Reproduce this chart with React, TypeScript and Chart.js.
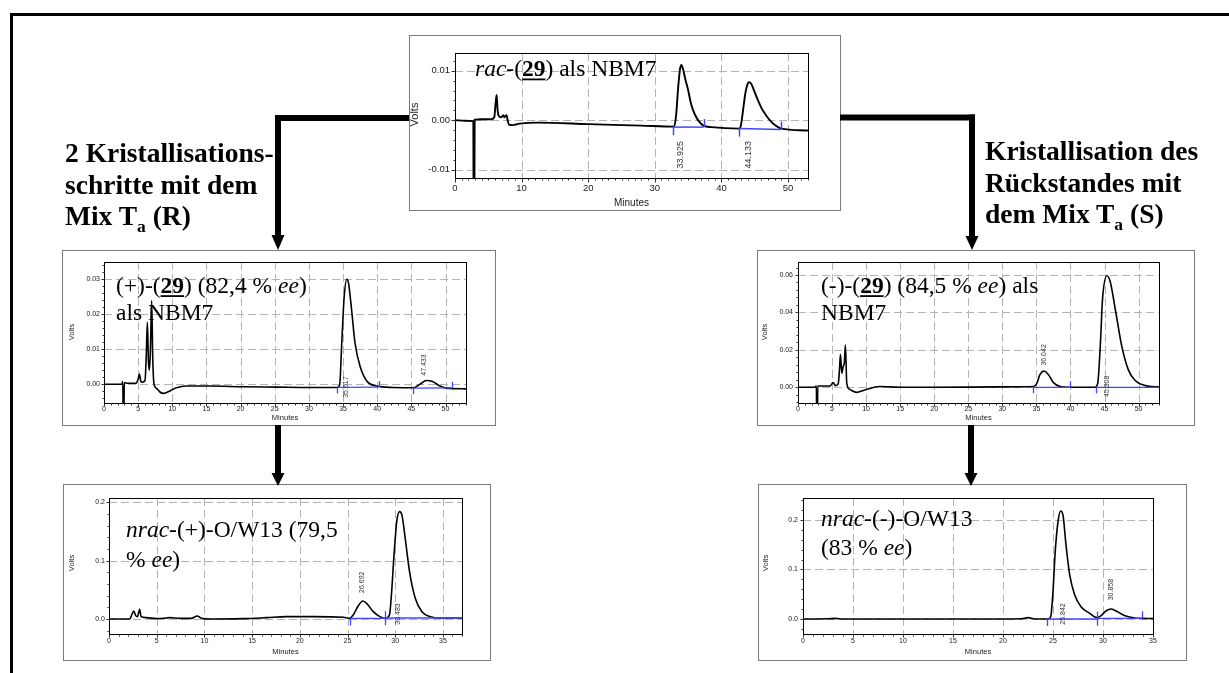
import React, { useEffect, useRef } from 'react';
import { Chart, registerables } from 'chart.js';
Chart.register(...registerables);

type P = [number, number];
type M = [number, number, number]; // x, y, dir (-1 down, 1 up, 0 both)

const SANS = '"Liberation Sans", Arial, sans-serif';
const SERIF = '"Liberation Serif", "Times New Roman", serif';
const BLUE = '#4444ff';

// ---------------- DATA ----------------
// Chart 1: rac-(29) als NBM7
const racX = [0, 10, 20, 30, 40, 50];
const racXLabels = ['0', '10', '20', '30', '40', '50'];
const racY = [-0.01, 0, 0.01];
const racYLabels = ['-0.01', '0.00', '0.01'];
const racTrace: P[] = [
  [0, 0], [1.5, -0.0001], [2.75, -0.0002], [2.8, -0.02], [2.9, -0.02], [2.95, 0.0001], [4, 0.0002], [5.5, 0.0002],
  [5.9, 0.0006], [6.1, 0.0035], [6.25, 0.0051], [6.4, 0.002], [6.6, 0.0008], [6.9, 0.0006], [7.1, 0.0008], [7.25, 0.001],
  [7.4, 0.0006], [7.6, 0.0009], [7.75, 0.001], [7.9, 0.0], [8.1, -0.0009], [8.6, -0.001], [9.7, -0.0007], [12.5, -0.0005],
  [20, -0.0008], [28, -0.0011], [32.9, -0.0013],
  [33.2, 0.001], [33.5, 0.0065], [33.8, 0.0105], [34.0, 0.0112], [34.2, 0.0105], [34.6, 0.0082], [35.0, 0.0061],
  [35.5, 0.003], [36.0, 0.0012], [36.6, -0.0002], [37.3, -0.0011], [38.5, -0.0014], [42.7, -0.0017],
  [42.9, -0.0012], [43.2, 0.0015], [43.6, 0.0055], [43.95, 0.0074], [44.2, 0.0077], [44.5, 0.0073], [44.9, 0.006],
  [45.4, 0.0043], [46, 0.0025], [46.8, 0.0008], [47.6, -0.0005], [48.5, -0.0014], [49, -0.0017], [53, -0.0021],
];
const racBaseA: P[] = [[32.7, -0.0014], [37.35, -0.0014]];
const racBaseB: P[] = [[42.6, -0.0017], [48.9, -0.0019]];
const racMarks: M[] = [[32.7, -0.0014, -1], [37.35, -0.0014, 1], [42.6, -0.0017, -1], [48.9, -0.0019, 1]];
const racPeakLabels = ['33.925', '44.133'];
const racPeakX = [33.8, 44.1];
const racPeakY = [-0.007, -0.007];

// Chart 2: (+)-(29)
const plusX = [0, 5, 10, 15, 20, 25, 30, 35, 40, 45, 50];
const plusXLabels = plusX.map(String);
const plusY = [0, 0.01, 0.02, 0.03];
const plusYLabels = ['0.00', '0.01', '0.02', '0.03'];
const plusTrace: P[] = [
  [0, 0], [2.6, 0], [2.75, 0.0008], [2.82, -0.01], [2.9, -0.01], [2.97, 0.0004], [3.5, 0.0003], [4.7, 0.0003],
  [5.0, 0.0015], [5.18, 0.0029], [5.4, 0.0008], [5.6, 0.0006], [6.0, 0.001], [6.2, 0.009], [6.35, 0.0177], [6.5, 0.0069],
  [6.64, 0.004], [6.8, 0.01], [6.98, 0.0239], [7.13, 0.008], [7.32, 0.0001], [7.7, -0.0012], [8.2, -0.0022], [8.7, -0.0026],
  [9.66, -0.0019], [10.6, -0.001], [12, -0.0005], [15.5, -0.0005], [20.4, -0.0007], [25.3, -0.0008], [30.2, -0.0009],
  [34.1, -0.0009], [34.5, -0.0002], [34.8, 0.0113], [35.15, 0.0246], [35.55, 0.03], [35.8, 0.0289], [36.25, 0.0213],
  [36.75, 0.0118], [37.5, 0.0051], [38.5, 0.0009], [39.9, -0.0005], [42.4, -0.0009], [45.3, -0.001], [46.3, 0.0001],
  [47.2, 0.0011], [48.0, 0.0009], [49.2, -0.0005], [50.2, -0.0011], [53, -0.0013],
];
const plusBaseA: P[] = [[34.15, -0.0009], [40.2, -0.0008]];
const plusBaseB: P[] = [[45.2, -0.0011], [50.9, -0.001]];
const plusMarks: M[] = [[34.15, -0.0009, -1], [40.2, -0.0008, 1], [45.2, -0.0011, -1], [50.9, -0.001, 1]];
const plusPeakLabels = ['35.617', '47.433'];
const plusPeakX = [35.45, 46.8];
const plusPeakY = [-0.0008, 0.0055];

// Chart 3: (-)-(29)
const minusX = [0, 5, 10, 15, 20, 25, 30, 35, 40, 45, 50];
const minusXLabels = minusX.map(String);
const minusY = [0, 0.02, 0.04, 0.06];
const minusYLabels = ['0.00', '0.02', '0.04', '0.06'];
const minusTrace: P[] = [
  [0, 0], [2.45, 0], [2.7, 0.0007], [2.75, -0.02], [2.85, -0.02], [2.9, 0.0007], [3.2, 0.0007], [4.7, 0.0007],
  [5.15, 0.0025], [5.5, 0.0009], [5.9, 0.0018], [6.1, 0.01], [6.23, 0.0176], [6.43, 0.0075], [6.62, 0.011], [6.8, 0.013],
  [6.96, 0.0226], [7.16, 0.0021], [7.6, -0.0011], [8.58, -0.0027], [9.8, -0.0014], [12, 0.0004], [15.2, 0], [20.1, 0],
  [29.9, 0.0002], [34.6, 0.0004], [35.06, 0.0021], [35.5, 0.0066], [36.1, 0.0087], [36.8, 0.0066], [37.5, 0.0025],
  [38.5, 0.0004], [39.7, 0], [43.6, 0], [44.0, 0.0021], [44.4, 0.0235], [44.7, 0.0467], [45.35, 0.0596], [45.84, 0.0564],
  [46.6, 0.0413], [47.55, 0.0217], [48.5, 0.0093], [49.5, 0.0036], [51, 0.0009], [53, 0.0002],
];
const minusBaseA: P[] = [[34.5, 0], [40, 0]];
const minusBaseB: P[] = [[43.7, 0], [53, 0]];
const minusMarks: M[] = [[34.5, 0, -1], [40, 0, 1], [43.7, 0, -1]];
const minusPeakLabels = ['36.042', '45.308'];
const minusPeakX = [36.1, 45.35];
const minusPeakY = [0.0173, 0.0005];

// Chart 4: nrac-(+)-O/W13
const owPlusX = [0, 5, 10, 15, 20, 25, 30, 35];
const owPlusXLabels = owPlusX.map(String);
const owPlusY = [0, 0.1, 0.2];
const owPlusYLabels = ['0.0', '0.1', '0.2'];
const owPlusTrace: P[] = [
  [0, 0], [2.17, 0], [2.45, 0.0097], [2.6, 0.0137], [2.8, 0.0057], [2.98, 0.004], [3.22, 0.0166], [3.36, 0.004],
  [3.9, 0.0023], [4.97, 0.0006], [6.0, 0.0017], [6.37, 0.0023], [7.4, 0.0011], [8.6, 0.0011], [9.24, 0.0051],
  [9.7, 0.0011], [10.6, 0], [14.07, 0.0006], [16.5, 0.0023], [18.6, 0.004], [21.4, 0.004], [24.6, 0.0029], [25.2, 0.0011],
  [25.6, 0.0069], [26.07, 0.0211], [26.6, 0.0309], [27.0, 0.0269], [27.7, 0.0126], [28.4, 0.004], [28.93, 0.0011],
  [29.4, 0.0069], [29.6, 0.0412], [29.9, 0.1155], [30.16, 0.167], [30.45, 0.184], [30.7, 0.1784], [31.05, 0.138],
  [31.5, 0.0812], [32.1, 0.0355], [32.8, 0.0126], [33.7, 0.004], [34.7, 0.0017], [37, 0.0017],
];
const owPlusBaseA: P[] = [[25.27, 0.0011], [28.93, 0.0011]];
const owPlusBaseB: P[] = [[28.93, 0.0017], [37, 0.0017]];
const owPlusMarks: M[] = [[25.27, 0.0011, -1], [28.93, 0.0014, 0]];
const owPlusPeakLabels = ['26.692', '30.483'];
const owPlusPeakX = [26.5, 30.35];
const owPlusPeakY = [0.063, 0.0086];

// Chart 5: nrac-(-)-O/W13
const owMinusX = [0, 5, 10, 15, 20, 25, 30, 35];
const owMinusXLabels = owMinusX.map(String);
const owMinusY = [0, 0.1, 0.2];
const owMinusYLabels = ['0.0', '0.1', '0.2'];
const owMinusTrace: P[] = [
  [0, 0], [2.5, 0.0004], [3.2, 0.0013], [4, 0], [8.2, 0], [16.5, 0], [21.8, 0.0006], [22.5, 0.0027], [23.2, 0], [24.5, 0],
  [24.77, 0.0047], [25.0, 0.0552], [25.2, 0.1293], [25.5, 0.1966], [25.77, 0.2182], [26.0, 0.21], [26.3, 0.1495],
  [26.67, 0.0889], [27.17, 0.0485], [27.8, 0.0249], [28.67, 0.0114], [29.4, 0.0027], [29.8, 0.0067], [30.3, 0.0162],
  [30.8, 0.0202], [31.3, 0.0162], [32.2, 0.0067], [33.2, 0.002], [33.9, 0.0013], [35, 0.0007],
];
const owMinusBaseA: P[] = [[24.4, 0], [29.4, 0]];
const owMinusBaseB: P[] = [[29.4, 0.0013], [33.9, 0.0013]];
const owMinusMarks: M[] = [[24.4, 0, -1], [29.4, 0.0006, 0], [33.9, 0.0013, 1]];
const owMinusPeakLabels = ['25.842', '30.858'];
const owMinusPeakX = [26.0, 30.8];
const owMinusPeakY = [0.0101, 0.0593];

// ---------------- TYPES / SPECS ----------------
interface Seg { t: string; i?: boolean; b?: boolean; u?: boolean }
interface Spec {
  box: [number, number, number, number];
  plot: [number, number, number, number];
  xRange: [number, number]; yRange: [number, number];
  xTicks: number[]; xLabels: string[]; yTicks: number[]; yLabels: string[];
  xMinor: number; yMinor: number;
  trace: P[]; baselines: P[][]; marks: M[];
  peakLabels: string[]; peakX: number[]; peakY: number[];
  overlay: { x: number; y: number; segs: Seg[] }[];
  tickFont: number; voltsFont: number; minFont: number; peakFont: number;
  xPad: number; yPad: number;
  volts: [number, number]; minutes: [number, number];
  lw: number; blw: number; markLen: number; majorLen: number; minorLen: number;
}

const OV = 23.5;

const specs: Spec[] = [
  {
    box: [409, 35, 840, 210], plot: [455, 53, 808, 178],
    xRange: [0, 53], yRange: [-0.0117, 0.0136],
    xTicks: racX, xLabels: racXLabels, yTicks: racY, yLabels: racYLabels, xMinor: 1, yMinor: 0.002,
    trace: racTrace, baselines: [racBaseA, racBaseB], marks: racMarks,
    peakLabels: racPeakLabels, peakX: racPeakX, peakY: racPeakY,
    overlay: [{ x: 475, y: 76, segs: [{ t: 'rac', i: true }, { t: '-(' }, { t: '29', b: true, u: true }, { t: ') als NBM7' }] }],
    tickFont: 9.5, voltsFont: 11, minFont: 10, peakFont: 9, xPad: 5, yPad: 5,
    volts: [415, 114.5], minutes: [631.5, 203], lw: 1.9, blw: 1.5, markLen: 8, majorLen: 4, minorLen: 2,
  },
  {
    box: [62, 250, 495, 425], plot: [104, 262, 466, 403],
    xRange: [0, 53], yRange: [-0.00534, 0.03494],
    xTicks: plusX, xLabels: plusXLabels, yTicks: plusY, yLabels: plusYLabels, xMinor: 1, yMinor: 0.002,
    trace: plusTrace, baselines: [plusBaseA, plusBaseB], marks: plusMarks,
    peakLabels: plusPeakLabels, peakX: plusPeakX, peakY: plusPeakY,
    overlay: [
      { x: 116, y: 292.7, segs: [{ t: '(+)-(' }, { t: '29', b: true, u: true }, { t: ') (82,4 % ' }, { t: 'ee', i: true }, { t: ')' }] },
      { x: 116, y: 320, segs: [{ t: 'als NBM7' }] },
    ],
    tickFont: 7, voltsFont: 7.5, minFont: 7.5, peakFont: 7, xPad: 2, yPad: 4,
    volts: [72, 332], minutes: [285, 418], lw: 1.6, blw: 1.3, markLen: 6, majorLen: 3, minorLen: 2,
  },
  {
    box: [757, 250, 1194, 425], plot: [798, 262, 1159, 403],
    xRange: [0, 53], yRange: [-0.00839, 0.06694],
    xTicks: minusX, xLabels: minusXLabels, yTicks: minusY, yLabels: minusYLabels, xMinor: 1, yMinor: 0.004,
    trace: minusTrace, baselines: [minusBaseA, minusBaseB], marks: minusMarks,
    peakLabels: minusPeakLabels, peakX: minusPeakX, peakY: minusPeakY,
    overlay: [
      { x: 821, y: 292.7, segs: [{ t: '(-)-(' }, { t: '29', b: true, u: true }, { t: ') (84,5 % ' }, { t: 'ee', i: true }, { t: ') als' }] },
      { x: 821, y: 320, segs: [{ t: 'NBM7' }] },
    ],
    tickFont: 7, voltsFont: 7.5, minFont: 7.5, peakFont: 7, xPad: 2, yPad: 5,
    volts: [764.5, 332], minutes: [978.5, 418], lw: 1.6, blw: 1.3, markLen: 6, majorLen: 3, minorLen: 2,
  },
  {
    box: [63, 484, 490, 660], plot: [109, 498, 462, 634],
    xRange: [0, 37], yRange: [-0.0257, 0.2074],
    xTicks: owPlusX, xLabels: owPlusXLabels, yTicks: owPlusY, yLabels: owPlusYLabels, xMinor: 1, yMinor: 0.02,
    trace: owPlusTrace, baselines: [owPlusBaseA, owPlusBaseB], marks: owPlusMarks,
    peakLabels: owPlusPeakLabels, peakX: owPlusPeakX, peakY: owPlusPeakY,
    overlay: [
      { x: 126, y: 536.7, segs: [{ t: 'nrac', i: true }, { t: '-(+)-O/W13 (79,5' }] },
      { x: 126, y: 566.7, segs: [{ t: '% ' }, { t: 'ee', i: true }, { t: ')' }] },
    ],
    tickFont: 7, voltsFont: 7.5, minFont: 7.5, peakFont: 7, xPad: 3, yPad: 4,
    volts: [71.7, 563], minutes: [285.5, 652], lw: 1.6, blw: 1.3, markLen: 7, majorLen: 3, minorLen: 2,
  },
  {
    box: [758, 484, 1186, 660], plot: [803, 498, 1153, 634],
    xRange: [0, 35], yRange: [-0.0303, 0.2444],
    xTicks: owMinusX, xLabels: owMinusXLabels, yTicks: owMinusY, yLabels: owMinusYLabels, xMinor: 1, yMinor: 0.02,
    trace: owMinusTrace, baselines: [owMinusBaseA, owMinusBaseB], marks: owMinusMarks,
    peakLabels: owMinusPeakLabels, peakX: owMinusPeakX, peakY: owMinusPeakY,
    overlay: [
      { x: 821, y: 526, segs: [{ t: 'nrac', i: true }, { t: '-(-)-O/W13' }] },
      { x: 821, y: 555, segs: [{ t: '(83 % ' }, { t: 'ee', i: true }, { t: ')' }] },
    ],
    tickFont: 7, voltsFont: 7.5, minFont: 7.5, peakFont: 7, xPad: 3, yPad: 5,
    volts: [765.7, 563], minutes: [978, 652], lw: 1.6, blw: 1.3, markLen: 7, majorLen: 3, minorLen: 2,
  },
];

function drawRich(ctx: CanvasRenderingContext2D, x: number, y: number, segs: Seg[], size: number) {
  let cx = x;
  ctx.fillStyle = '#000';
  ctx.textAlign = 'left';
  ctx.textBaseline = 'alphabetic';
  for (const s of segs) {
    ctx.font = `${s.i ? 'italic ' : ''}${s.b ? 'bold ' : ''}${size}px ${SERIF}`;
    ctx.fillText(s.t, cx, y);
    const w = ctx.measureText(s.t).width;
    if (s.u) ctx.fillRect(cx, y + 2.5, w, 1.8);
    cx += w;
  }
}

function makePlugin(s: Spec, ox: number, oy: number) {
  const eps = 1e-9;
  return {
    id: 'chrom',
    beforeDatasetsDraw(chart: any) {
      const { ctx, chartArea: a, scales } = chart;
      const x = scales.x, y = scales.y;
      ctx.save();
      ctx.strokeStyle = '#b4b4b4';
      ctx.lineWidth = 1;
      ctx.setLineDash([8, 4]);
      for (const v of s.xTicks) {
        if (v <= s.xRange[0] + eps || v >= s.xRange[1] - eps) continue;
        const px = Math.round(x.getPixelForValue(v)) + 0.5;
        ctx.beginPath(); ctx.moveTo(px, a.top); ctx.lineTo(px, a.bottom); ctx.stroke();
      }
      for (const v of s.yTicks) {
        const py = Math.round(y.getPixelForValue(v)) + 0.5;
        ctx.beginPath(); ctx.moveTo(a.left, py); ctx.lineTo(a.right, py); ctx.stroke();
      }
      ctx.restore();
    },
    afterDatasetsDraw(chart: any) {
      const { ctx, chartArea: a, scales } = chart;
      const x = scales.x, y = scales.y;
      ctx.save();
      ctx.setLineDash([]);
      // blue integration markers
      ctx.strokeStyle = BLUE;
      ctx.lineWidth = s.blw;
      for (const [mx, my, d] of s.marks) {
        const px = Math.round(x.getPixelForValue(mx)) + 0.5;
        const py = y.getPixelForValue(my);
        ctx.beginPath();
        ctx.moveTo(px, d >= 0 ? py - s.markLen : py);
        ctx.lineTo(px, d <= 0 ? py + s.markLen : py);
        ctx.stroke();
      }
      // plot frame
      ctx.strokeStyle = '#000';
      ctx.lineWidth = 1;
      const L = Math.round(a.left) + 0.5, T = Math.round(a.top) + 0.5;
      const R = Math.round(a.right) + 0.5, B = Math.round(a.bottom) + 0.5;
      ctx.strokeRect(L, T, R - L, B - T);
      // ticks
      ctx.strokeStyle = '#333';
      const nx = Math.round((s.xRange[1] - s.xRange[0]) / s.xMinor);
      for (let k = 0; k <= nx; k++) {
        const v = s.xRange[0] + k * s.xMinor;
        if (v > s.xRange[1] + eps) break;
        const isMajor = s.xTicks.some((t) => Math.abs(t - v) < eps);
        const px = Math.round(x.getPixelForValue(v)) + 0.5;
        ctx.beginPath(); ctx.moveTo(px, B); ctx.lineTo(px, B + (isMajor ? s.majorLen : s.minorLen)); ctx.stroke();
      }
      const k0 = Math.ceil(s.yRange[0] / s.yMinor - eps), k1 = Math.floor(s.yRange[1] / s.yMinor + eps);
      for (let k = k0; k <= k1; k++) {
        const v = k * s.yMinor;
        const isMajor = s.yTicks.some((t) => Math.abs(t - v) < 1e-7);
        const py = Math.round(y.getPixelForValue(v)) + 0.5;
        ctx.beginPath(); ctx.moveTo(L, py); ctx.lineTo(L - (isMajor ? s.majorLen : s.minorLen), py); ctx.stroke();
      }
      // peak retention labels
      ctx.fillStyle = '#333';
      ctx.font = `${s.peakFont}px ${SANS}`;
      ctx.textAlign = 'center';
      ctx.textBaseline = 'middle';
      s.peakLabels.forEach((lab, i) => {
        const px = x.getPixelForValue(s.peakX[i]);
        const py = y.getPixelForValue(s.peakY[i]);
        ctx.save(); ctx.translate(px, py); ctx.rotate(-Math.PI / 2); ctx.fillText(lab, 0, 0); ctx.restore();
      });
      // axis titles
      ctx.fillStyle = '#222';
      ctx.font = `${s.voltsFont}px ${SANS}`;
      ctx.save(); ctx.translate(s.volts[0] - ox, s.volts[1] - oy); ctx.rotate(-Math.PI / 2); ctx.fillText('Volts', 0, 0); ctx.restore();
      ctx.font = `${s.minFont}px ${SANS}`;
      ctx.fillText('Minutes', s.minutes[0] - ox, s.minutes[1] - oy);
      // overlay text
      for (const o of s.overlay) drawRich(ctx, o.x - ox, o.y - oy, o.segs, OV);
      ctx.restore();
    },
  };
}

function ChromBox({ s }: { s: Spec }) {
  const ref = useRef<HTMLCanvasElement>(null);
  const [l, t, r, b] = s.box;
  const w = r - l - 1, h = b - t - 1;
  useEffect(() => {
    const ox = l + 1, oy = t + 1;
    const padTop = s.plot[1] - oy;
    const padRight = ox + w - s.plot[2];
    const yW = s.plot[0] - ox;
    const xH = oy + h - s.plot[3];
    const chart = new Chart(ref.current as HTMLCanvasElement, {
      type: 'line',
      data: {
        datasets: [
          {
            data: s.trace.map(([px, py]) => ({ x: px, y: py })),
            borderColor: '#000', borderWidth: s.lw, pointRadius: 0,
            cubicInterpolationMode: 'monotone', tension: 0.4, clip: 0 as any, order: 1,
          },
          ...s.baselines.map((seg) => ({
            data: seg.map(([px, py]) => ({ x: px, y: py })),
            borderColor: BLUE, borderWidth: s.blw, pointRadius: 0, tension: 0, clip: 0 as any, order: 0,
          })),
        ],
      },
      options: {
        animation: false,
        responsive: false,
        events: [],
        layout: { autoPadding: false, padding: { top: padTop, right: padRight, left: 0, bottom: 0 } } as any,
        plugins: { legend: { display: false }, tooltip: { enabled: false } },
        scales: {
          x: {
            type: 'linear', min: s.xRange[0], max: s.xRange[1],
            afterBuildTicks: (sc: any) => { sc.ticks = s.xTicks.map((v) => ({ value: v })); },
            afterFit: (sc: any) => { sc.height = xH; },
            grid: { display: false, drawTicks: false }, border: { display: false },
            ticks: {
              autoSkip: false, maxRotation: 0, minRotation: 0, padding: s.xPad, color: '#222',
              font: { family: SANS, size: s.tickFont }, callback: (_v: any, i: number) => s.xLabels[i],
            },
          },
          y: {
            type: 'linear', min: s.yRange[0], max: s.yRange[1],
            afterBuildTicks: (sc: any) => { sc.ticks = s.yTicks.map((v) => ({ value: v })); },
            afterFit: (sc: any) => { sc.width = yW; },
            grid: { display: false, drawTicks: false }, border: { display: false },
            ticks: {
              autoSkip: false, padding: s.yPad, color: '#222',
              font: { family: SANS, size: s.tickFont }, callback: (_v: any, i: number) => s.yLabels[i],
            },
          },
        },
      } as any,
      plugins: [makePlugin(s, ox, oy) as any],
    });
    return () => chart.destroy();
  }, []);
  return (
    <div style={{ position: 'absolute', left: l, top: t, width: w, height: h, border: '1px solid #7a7a7a', background: '#fff' }}>
      <canvas ref={ref} width={w} height={h} style={{ display: 'block', width: w, height: h }} />
    </div>
  );
}

const flowStyle: React.CSSProperties = {
  position: 'absolute', fontFamily: SERIF, fontWeight: 'bold', fontSize: 27.5, lineHeight: '31.5px',
  color: '#000', whiteSpace: 'nowrap',
};
const subStyle: React.CSSProperties = { fontSize: 17.5, position: 'relative', top: 7 };

export default function App() {
  return (
    <div style={{ position: 'absolute', left: 0, top: 0, width: 1229, height: 673, background: '#fff', overflow: 'hidden' }}>
      {specs.map((s, i) => <ChromBox key={i} s={s} />)}
      <svg width={1229} height={673} style={{ position: 'absolute', left: 0, top: 0, pointerEvents: 'none' }}>
        <rect x={10} y={13} width={1219} height={3} fill="#000" />
        <rect x={10} y={13} width={3} height={660} fill="#000" />
        <rect x={275} y={115} width={134} height={6} fill="#000" />
        <rect x={275} y={115} width={6} height={121} fill="#000" />
        <polygon points="271.5,235 284.5,235 278,250" fill="#000" />
        <rect x={840} y={114.5} width={135} height={6} fill="#000" />
        <rect x={969} y={114.5} width={6} height={122} fill="#000" />
        <polygon points="965.5,236 978.5,236 972,250" fill="#000" />
        <rect x={275} y={425} width={6} height={49} fill="#000" />
        <polygon points="271.5,473 284.5,473 278,486" fill="#000" />
        <rect x={968} y={425} width={6} height={49} fill="#000" />
        <polygon points="964.5,473 977.5,473 971,486" fill="#000" />
      </svg>
      <div style={{ ...flowStyle, left: 65, top: 137 }}>
        <div>2 Kristallisations-</div>
        <div>schritte mit dem</div>
        <div>Mix T<span style={subStyle}>a</span> (R)</div>
      </div>
      <div style={{ ...flowStyle, left: 985, top: 135 }}>
        <div>Kristallisation des</div>
        <div>Rückstandes mit</div>
        <div>dem Mix T<span style={subStyle}>a</span> (S)</div>
      </div>
    </div>
  );
}
